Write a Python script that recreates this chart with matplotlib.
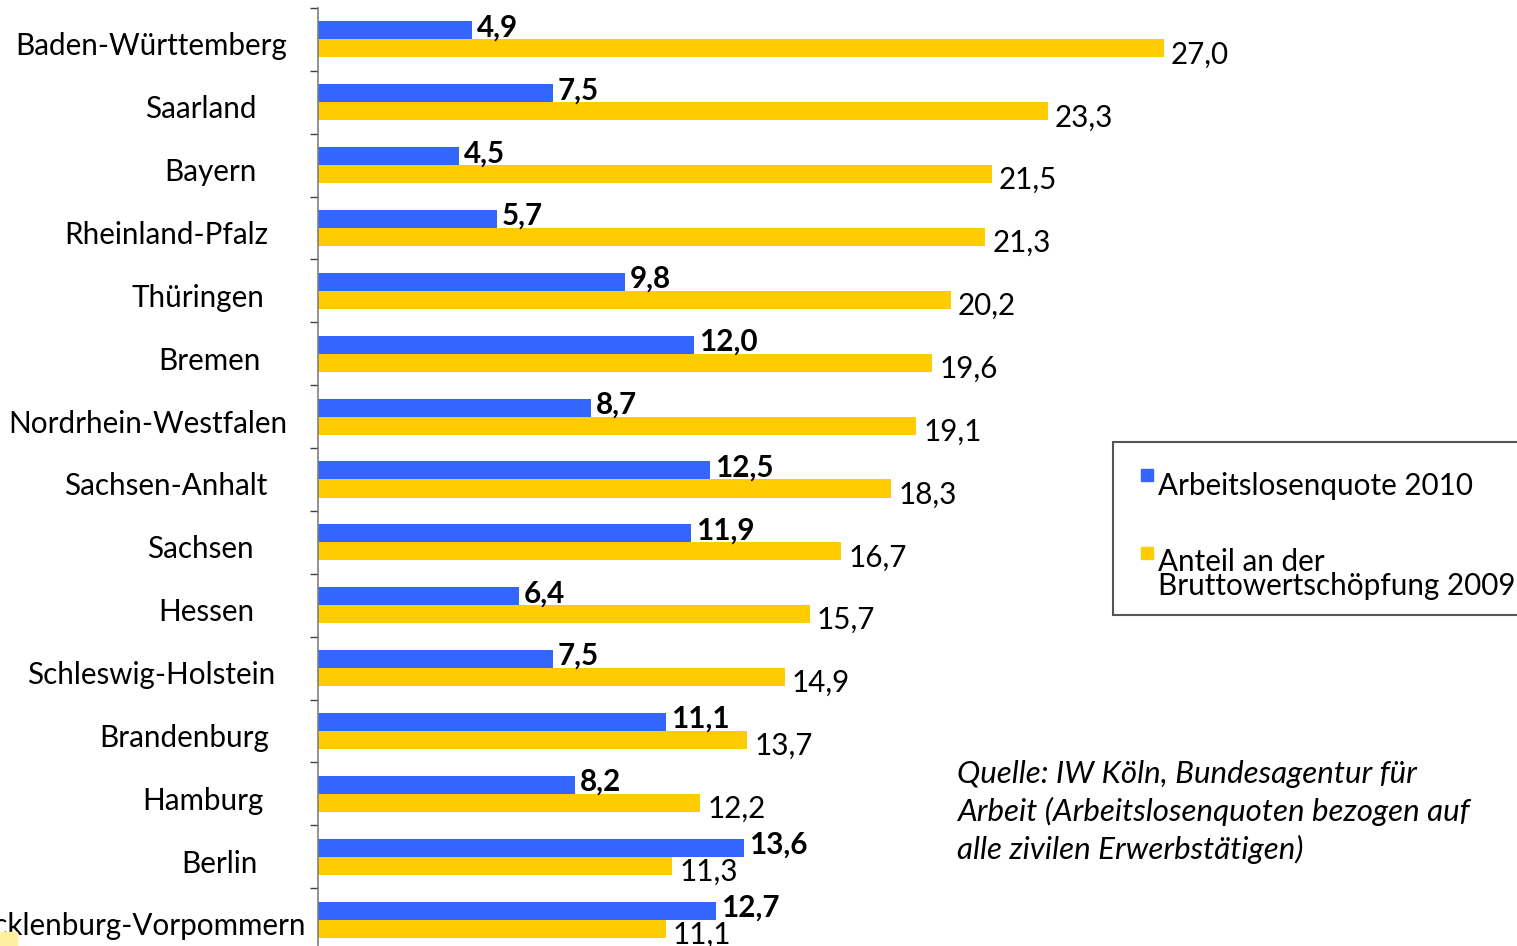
import numpy as np
import matplotlib.pyplot as plt
from matplotlib.patches import Rectangle

plt.rcParams['font.family'] = ['Lato', 'DejaVu Sans']

# Data
laender = ['Baden-Württemberg', 'Saarland', 'Bayern', 'Rheinland-Pfalz', 'Thüringen',
           'Bremen', 'Nordrhein-Westfalen', 'Sachsen-Anhalt', 'Sachsen', 'Hessen',
           'Schleswig-Holstein', 'Brandenburg', 'Hamburg', 'Berlin', 'Mecklenburg-Vorpommern']
arbeitslosenquote = [4.9, 7.5, 4.5, 5.7, 9.8, 12.0, 8.7, 12.5, 11.9, 6.4, 7.5, 11.1, 8.2, 13.6, 12.7]
anteil_bws = [27.0, 23.3, 21.5, 21.3, 20.2, 19.6, 19.1, 18.3, 16.7, 15.7, 14.9, 13.7, 12.2, 11.3, 11.1]

# Layout (pixels)
W, H = 1517, 946
label_right_px = [287, 257, 257, 268, 264, 261, 287, 267, 254, 254, 275, 269, 264, 258, 306]
blue = '#3366FF'
yellow = '#FFCC00'

fig = plt.figure(figsize=(W / 100, H / 100), dpi=100)
ax_left, ax_top, ax_bot = 318, 8, 951
ax = fig.add_axes([ax_left / W, 1 - ax_bot / H, (W - ax_left) / W, (ax_bot - ax_top) / H])

px_per_unit = 31.33
xmax = (W - ax_left) / px_per_unit
ax.set_xlim(0, xmax)
ax.set_ylim(len(laender) - 0.5, -0.5)

y = np.arange(len(laender))
bh = 0.287
ax.barh(y - bh / 2, arbeitslosenquote, height=bh, color=blue, linewidth=0)
ax.barh(y + bh / 2, anteil_bws, height=bh, color=yellow, linewidth=0)

row_px = (ax_bot - ax_top) / len(laender)
fs = 21.3
for i, (a, b) in enumerate(zip(arbeitslosenquote, anteil_bws)):
    ax.text(a + 5 / px_per_unit, i - bh / 2 - 3 / row_px, f'{a:.1f}'.replace('.', ','),
            fontsize=fs, fontweight='bold', va='center', ha='left')
    ax.text(b + 7 / px_per_unit, i + bh / 2 + 6 / row_px, f'{b:.1f}'.replace('.', ','),
            fontsize=fs, va='center', ha='left')
    ax.text((label_right_px[i] - ax_left) / px_per_unit, i + 0.11, laender[i],
            fontsize=fs, va='center', ha='right', clip_on=False)

# Axes styling
for s in ['top', 'right', 'bottom']:
    ax.spines[s].set_visible(False)
ax.spines['left'].set_color('#808080')
ax.spines['left'].set_linewidth(1.2)
ax.set_xticks([])
ax.set_yticks(np.arange(-0.5, len(laender), 1))
ax.set_yticklabels([])
ax.tick_params(axis='y', length=6, width=1, color='#404040', direction='out')

# Legend (drawn by hand, cut at the right edge like the original)
def fx(px):
    return px / W

def fy(py):
    return 1 - py / H

fig.patches.append(Rectangle((fx(1113), fy(615)), fx(420), (615 - 442) / H,
                             transform=fig.transFigure, facecolor='white',
                             edgecolor='#555555', linewidth=1.5))
fig.patches.append(Rectangle((fx(1141), fy(481)), fx(12), 12 / H,
                             transform=fig.transFigure, color=blue))
fig.patches.append(Rectangle((fx(1141), fy(559)), fx(12), 12 / H,
                             transform=fig.transFigure, color=yellow))
fig.text(fx(1158), fy(486), 'Arbeitslosenquote 2010', fontsize=fs, va='center', ha='left')
fig.text(fx(1158), fy(574), 'Anteil an der\nBruttowertschöpfung 2009', fontsize=fs,
         va='center', ha='left', linespacing=0.8)

# small light patch bottom left
fig.patches.append(Rectangle((0, 0), fx(17), 14 / H, transform=fig.transFigure,
                             color='#FFF0A0'))

# Source note
fig.text(fx(957), fy(812), 'Quelle: IW Köln, Bundesagentur für\n'
         'Arbeit (Arbeitslosenquoten bezogen auf\nalle zivilen Erwerbstätigen)',
         fontsize=22.5, style='italic', va='center', ha='left', linespacing=1.38)

fig.savefig('out.png', dpi=100)
